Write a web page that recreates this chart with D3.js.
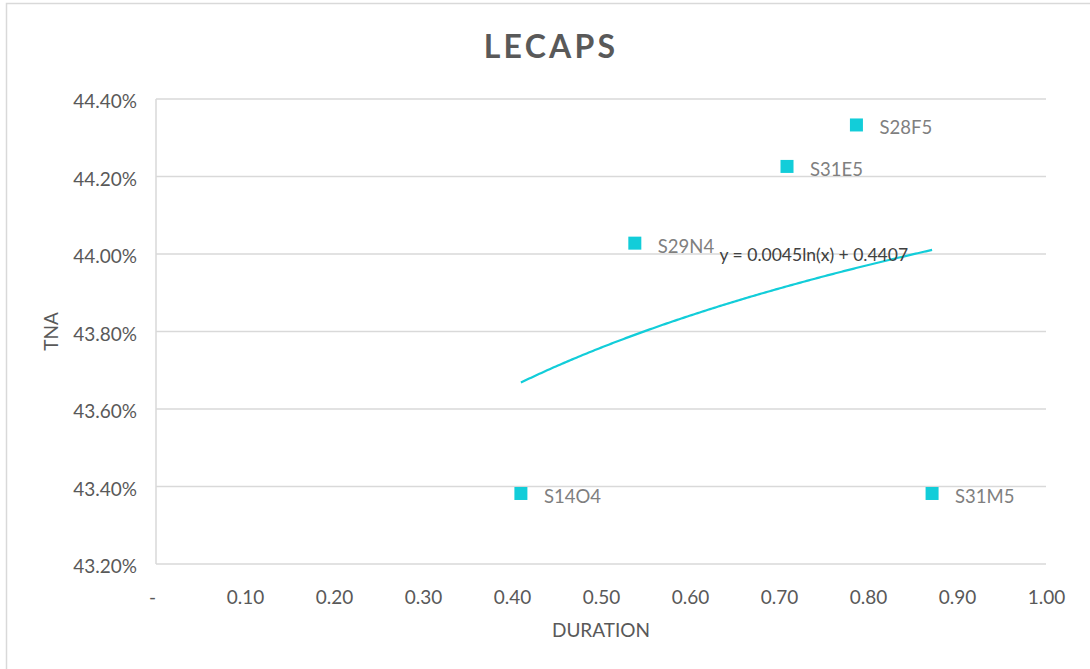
<!DOCTYPE html>
<html>
<head>
<meta charset="utf-8">
<script src="https://cdn.jsdelivr.net/npm/d3@7"></script>
<style>
  html, body { margin: 0; padding: 0; background: #fff; }
  svg { display: block; }
  text { font-family: Lato, "Open Sans", sans-serif; }
</style>
</head>
<body>
<svg id="chart" width="1090" height="669"></svg>
<script>
// ---- data ----
const names     = ["S14O4", "S29N4", "S31E5", "S28F5", "S31M5"];
const durations = [0.410, 0.538, 0.709, 0.787, 0.872];
const tna       = [0.43382, 0.44028, 0.44226, 0.44333, 0.43382];
const xTicks    = [0, 0.1, 0.2, 0.3, 0.4, 0.5, 0.6, 0.7, 0.8, 0.9, 1.0];
const yTicks    = [0.432, 0.434, 0.436, 0.438, 0.440, 0.442, 0.444];
const chartTitle = "LECAPS";
const xTitle = "DURATION";
const yTitle = "TNA";

// ---- layout ----
const svg = d3.select("#chart");
const plot = { left: 156, right: 1046, top: 99, bottom: 564 };
const accent = "#12CDD9";
const grid = "#D9D9D9";
const textCol = "#595959";

const x = d3.scaleLinear().domain([0, 1]).range([plot.left, plot.right]);
const y = d3.scaleLinear().domain([0.432, 0.444]).range([plot.bottom, plot.top]);

// outer chart border (extends past the window)
svg.append("rect")
  .attr("x", 6.5).attr("y", 3.5).attr("width", 1200).attr("height", 800)
  .attr("fill", "#fff").attr("stroke", grid).attr("stroke-width", 1.5);

// title
svg.append("text")
  .attr("x", 551).attr("y", 58)
  .attr("text-anchor", "middle")
  .attr("font-size", 32).attr("font-weight", 700)
  .attr("letter-spacing", 3.2)
  .attr("fill", textCol)
  .text(chartTitle);

// horizontal gridlines
svg.append("g").selectAll("line").data(yTicks).join("line")
  .attr("x1", plot.left).attr("x2", plot.right)
  .attr("y1", d => y(d)).attr("y2", d => y(d))
  .attr("stroke", grid).attr("stroke-width", 1.5);

// vertical axis line at x=0
svg.append("line")
  .attr("x1", x(0)).attr("x2", x(0))
  .attr("y1", plot.top).attr("y2", plot.bottom)
  .attr("stroke", grid).attr("stroke-width", 1.5);

// y axis labels
const yAxis = d3.axisLeft(y).tickValues(yTicks).tickSize(0).tickPadding(0)
  .tickFormat(d => (d * 100).toFixed(2) + "%");
const yg = svg.append("g").attr("transform", `translate(${plot.left - 19},0)`).call(yAxis);
yg.select(".domain").remove();
yg.selectAll("text").attr("font-size", 19).attr("fill", textCol)
  .attr("font-family", "Lato, 'Open Sans', sans-serif").attr("dy", "0.45em");

// x axis labels
const xAxis = d3.axisBottom(x).tickValues(xTicks).tickSize(0).tickPadding(0)
  .tickFormat(d => d === 0 ? "-" : d.toFixed(2));
const xg = svg.append("g").attr("transform", `translate(0,${plot.bottom + 33})`).call(xAxis);
xg.select(".domain").remove();
xg.selectAll("text").attr("font-size", 19).attr("fill", textCol)
  .attr("font-family", "Lato, 'Open Sans', sans-serif").attr("dy", "0.35em")
  .attr("dx", d => d === 0 ? -4 : 0);

// axis titles
svg.append("text")
  .attr("x", (plot.left + plot.right) / 2).attr("y", 637)
  .attr("text-anchor", "middle").attr("font-size", 19).attr("fill", textCol)
  .text(xTitle);
svg.append("text")
  .attr("transform", `translate(58,${(plot.top + plot.bottom) / 2}) rotate(-90)`)
  .attr("text-anchor", "middle").attr("font-size", 19).attr("fill", textCol)
  .text(yTitle);

// logarithmic trendline fitted to the data (least squares on ln x)
const lx = durations.map(Math.log);
const mx = d3.mean(lx), my = d3.mean(tna);
const slope = d3.sum(lx.map((v, i) => (v - mx) * (tna[i] - my))) / d3.sum(lx.map(v => (v - mx) ** 2));
const intercept = my - slope * mx;
const xmin = d3.min(durations), xmax = d3.max(durations);
const samples = d3.range(0, 201).map(i => xmin + (xmax - xmin) * i / 200);
const line = d3.line().x(d => x(d)).y(d => y(slope * Math.log(d) + intercept));
svg.append("path").datum(samples)
  .attr("d", line).attr("fill", "none")
  .attr("stroke", accent).attr("stroke-width", 2.2);

// trendline equation label
svg.append("text")
  .attr("x", x(xmax) - 24).attr("y", y(slope * Math.log(xmax) + intercept) + 11)
  .attr("text-anchor", "end").attr("font-size", 17.5).attr("fill", "#404040")
  .text(`y = ${slope.toFixed(4)}ln(x) + ${intercept.toFixed(4)}`);

// points
const pts = names.map((n, i) => ({ name: n, dx: durations[i], v: tna[i] }));
const size = 13;
svg.append("g").selectAll("rect").data(pts).join("rect")
  .attr("x", d => x(d.dx) - size / 2).attr("y", d => y(d.v) - size / 2)
  .attr("width", size).attr("height", size)
  .attr("fill", accent);

// point labels
svg.append("g").selectAll("text").data(pts).join("text")
  .attr("x", d => x(d.dx) + 23).attr("y", d => y(d.v) + 3)
  .attr("dy", "0.35em").attr("font-size", 18.5).attr("fill", "#7F7F7F")
  .text(d => d.name);
</script>
</body>
</html>
